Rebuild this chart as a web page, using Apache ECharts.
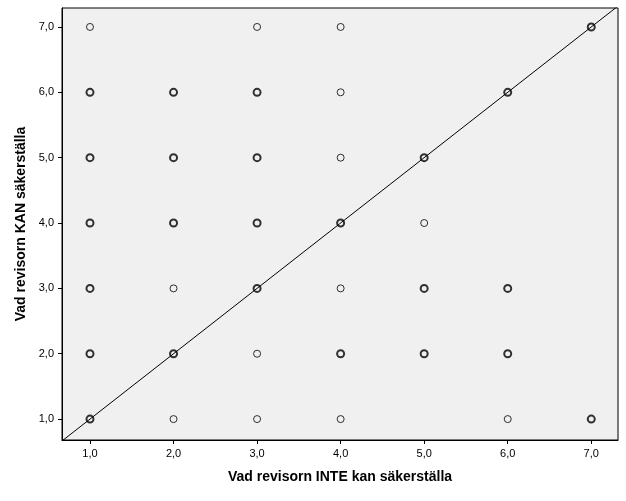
<!DOCTYPE html><html><head><meta charset="utf-8"><script src="https://cdn.jsdelivr.net/npm/echarts@6/dist/echarts.min.js"></script></head><body style="margin:0;background:#fff"><div id="c" style="width:626px;height:501px"></div><script>
const ticks=[1,2,3,4,5,6,7];
const thinPts=[[1,7],[3,7],[4,7],[4,6],[4,5],[5,4],[2,3],[4,3],[3,2],[2,1],[3,1],[4,1],[6,1]];
const boldPts=[[7,7],[1,6],[2,6],[3,6],[6,6],[1,5],[2,5],[3,5],[5,5],[1,4],[2,4],[3,4],[4,4],[1,3],[3,3],[5,3],[6,3],[1,2],[2,2],[4,2],[5,2],[6,2],[1,1],[7,1]];
const diag=[[0.5,0.5],[7.5,7.5]];
const fmt=v=>ticks.includes(v)?v.toFixed(1).replace('.',','):'';
const ax=(name,min,max,gap)=>({type:'value',min,max,name,nameLocation:'middle',nameGap:gap,
 nameTextStyle:{fontFamily:'Arial, Liberation Sans',fontWeight:'bold',fontSize:14,color:'#000'},
 axisLine:{show:true,lineStyle:{color:'#000'}},axisTick:{show:true,customValues:ticks,lineStyle:{color:'#000'},length:4},
 axisLabel:{customValues:ticks,formatter:fmt,color:'#000',fontFamily:'Arial, Liberation Sans',fontSize:11},splitLine:{show:false}});
echarts.init(document.getElementById('c')).setOption({animation:false,
 grid:{left:62,right:8,top:8,bottom:61,backgroundColor:'#f0f0f0',show:true,borderColor:'#000',borderWidth:1},
 xAxis:ax('Vad revisorn INTE kan säkerställa',0.665,7.32,30),
 yAxis:ax('Vad revisorn KAN säkerställa',0.68,7.29,33),
 series:[
 {type:'line',data:diag,symbol:'none',lineStyle:{color:'#000',width:1},clip:true,silent:true},
 {type:'scatter',data:thinPts,symbol:'circle',symbolSize:7,itemStyle:{color:'transparent',borderColor:'#000',borderWidth:1}},
 {type:'scatter',data:boldPts,symbol:'circle',symbolSize:7,itemStyle:{color:'transparent',borderColor:'#000',borderWidth:2}}
 ]});
</script></body></html>
